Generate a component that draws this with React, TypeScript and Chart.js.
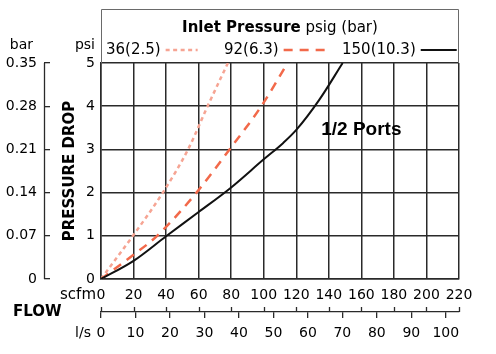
import React, { useEffect, useRef } from 'react';
import { Chart, registerables } from 'chart.js';

Chart.register(...registerables);

// ---------- data ----------
const seriesNames = ['36(2.5)', '92(6.3)', '150(10.3)'];
const flow36 = [0, 20, 38, 53.5, 65.5, 78];
const drop36 = [0, 1.02, 2, 3, 4, 5];
const flow92 = [0, 20, 34.5, 58.7, 79, 98.5, 114.7];
const drop92 = [0, 0.56, 1, 2, 3, 4, 5];
const flow150 = [0, 20, 40, 60, 80, 100, 112, 120, 134, 148.5];
const drop150 = [0, 0.42, 0.99, 1.55, 2.12, 2.77, 3.15, 3.45, 4.14, 5];

const scfmTicks = [0, 20, 40, 60, 80, 100, 120, 140, 160, 180, 200, 220];
const lpsTicks = [0, 10, 20, 30, 40, 50, 60, 70, 80, 90, 100];
const psiTicks = [0, 1, 2, 3, 4, 5];
const barTicks = [0, 0.07, 0.14, 0.21, 0.28, 0.35];
const SCFM_PER_LPS = 2.11888;

const legendTitleBold = 'Inlet Pressure';
const legendTitleRest = ' psig (bar)';
const portsLabel = '1/2 Ports';
const portsAt = { x: 160, y: 3.45 };

// ---------- style ----------
const FAMILY = '"DejaVu Sans", sans-serif';
const GRID = '#2a2a2a';
const colors = ['#f6a493', '#f2694a', '#111111'];
const widths = [2.5, 2.5, 2];
const dashes: number[][] = [[4, 3.5], [9, 7], []];
const sampleLen = [32, 42, 36];

const toPts = (xs: number[], ys: number[]) => xs.map((x, i) => ({ x, y: ys[i] }));

const decor = {
  id: 'decor',
  afterDraw(chart: any) {
    const { ctx, chartArea: ca, scales } = chart;
    const xs = scales.x, x2 = scales.x2, ys = scales.y, bs = scales.bar;
    ctx.save();
    ctx.fillStyle = '#000';
    ctx.textBaseline = 'middle';

    // legend box
    ctx.strokeStyle = '#6a6a6a';
    ctx.lineWidth = 1;
    const boxTop = ca.top - 54;
    ctx.beginPath();
    ctx.moveTo(ca.left + 0.5, ca.top);
    ctx.lineTo(ca.left + 0.5, boxTop + 0.5);
    ctx.lineTo(ca.right - 0.5, boxTop + 0.5);
    ctx.lineTo(ca.right - 0.5, ca.top);
    ctx.stroke();

    // legend title (mixed weight)
    const bFont = `bold 15px ${FAMILY}`;
    const rFont = `15px ${FAMILY}`;
    ctx.font = bFont;
    const wb = ctx.measureText(legendTitleBold).width;
    ctx.font = rFont;
    const wr = ctx.measureText(legendTitleRest).width;
    const tx = (ca.left + ca.right) / 2 - (wb + wr) / 2;
    const ty = boxTop + 19;
    ctx.textAlign = 'left';
    ctx.font = bFont;
    ctx.fillText(legendTitleBold, tx, ty);
    ctx.font = rFont;
    ctx.fillText(legendTitleRest, tx + wb, ty);

    // legend items
    const ly = ca.top - 13;
    chart.data.datasets.forEach((ds: any, i: number) => {
      const x0 = ca.left + 5 + i * 118;
      ctx.font = rFont;
      ctx.fillStyle = '#000';
      ctx.fillText(seriesNames[i], x0, ly);
      const w = ctx.measureText(seriesNames[i]).width;
      ctx.strokeStyle = ds.borderColor;
      ctx.lineWidth = ds.borderWidth;
      ctx.setLineDash(ds.borderDash || []);
      ctx.beginPath();
      ctx.moveTo(x0 + w + 5, ly);
      ctx.lineTo(x0 + w + 5 + sampleLen[i], ly);
      ctx.stroke();
      ctx.setLineDash([]);
    });

    // bar axis vertical line
    ctx.strokeStyle = GRID;
    ctx.lineWidth = 1.3;
    const bx = Math.round(bs.right - 6) + 0.5;
    ctx.beginPath();
    ctx.moveTo(bx, bs.getPixelForValue(barTicks[barTicks.length - 1]));
    ctx.lineTo(bx, bs.getPixelForValue(0));
    ctx.stroke();

    // upward ticks on the l/s line at scfm positions
    ctx.beginPath();
    scfmTicks.forEach((v) => {
      const px = Math.round(xs.getPixelForValue(v)) + 0.5;
      ctx.moveTo(px, x2.top - 5);
      ctx.lineTo(px, x2.top);
    });
    ctx.stroke();

    // unit labels
    const uFont = `14px ${FAMILY}`;
    ctx.fillStyle = '#000';
    ctx.font = uFont;
    ctx.textAlign = 'right';
    ctx.fillText('psi', ys.right - 6, ca.top - 18);
    ctx.fillText('bar', bs.right - 17, ca.top - 18);
    ctx.font = `15px ${FAMILY}`;
    ctx.fillText('scfm', ca.left - 5, xs.top + 16.4);
    ctx.font = uFont;
    ctx.fillText('l/s', ca.left - 10, x2.top + 21.4);
    ctx.textAlign = 'left';
    ctx.font = `bold 15px ${FAMILY}`;
    ctx.fillText('FLOW', 13, x2.top);

    // annotation
    ctx.textAlign = 'center';
    ctx.font = 'bold 19px "Liberation Sans", Arial, sans-serif';
    ctx.fillText(portsLabel, xs.getPixelForValue(portsAt.x), ys.getPixelForValue(portsAt.y));
    ctx.restore();
  },
};

export default function App() {
  const ref = useRef<HTMLCanvasElement>(null);
  useEffect(() => {
    const tickFont = { family: FAMILY, size: 14 };
    const chart = new Chart(ref.current as HTMLCanvasElement, {
      type: 'line',
      data: {
        datasets: [
          { label: seriesNames[0], data: toPts(flow36, drop36), borderColor: colors[0], borderWidth: widths[0], borderDash: dashes[0], order: 2 },
          { label: seriesNames[1], data: toPts(flow92, drop92), borderColor: colors[1], borderWidth: widths[1], borderDash: dashes[1], order: 1 },
          { label: seriesNames[2], data: toPts(flow150, drop150), borderColor: colors[2], borderWidth: widths[2], borderDash: dashes[2], order: 0 },
        ] as any,
      },
      options: {
        responsive: false,
        animation: false,
        elements: {
          point: { radius: 0 },
          line: { cubicInterpolationMode: 'monotone', fill: false, borderCapStyle: 'butt' },
        },
        layout: { padding: { top: 63, right: 37, left: 0, bottom: 0 } },
        plugins: { legend: { display: false }, tooltip: { enabled: false }, title: { display: false } },
        scales: {
          x: {
            type: 'linear', position: 'bottom', min: 0, max: 220, weight: 0,
            afterBuildTicks: (s: any) => { s.ticks = scfmTicks.map((v) => ({ value: v })); },
            afterFit: (s: any) => { s.height = 33; },
            ticks: { font: tickFont, color: '#000', padding: 8, autoSkip: false, maxRotation: 0 },
            grid: { color: GRID, lineWidth: 1.5, drawTicks: false },
            border: { color: GRID, width: 1.5 },
          },
          x2: {
            type: 'linear', position: 'bottom', min: 0, max: 220 / SCFM_PER_LPS, weight: 1,
            afterBuildTicks: (s: any) => { s.ticks = lpsTicks.map((v) => ({ value: v })); },
            afterFit: (s: any) => { s.height = 42; },
            ticks: { font: tickFont, color: '#000', padding: 7, autoSkip: false, maxRotation: 0 },
            grid: { drawOnChartArea: false, drawTicks: true, tickLength: 6, color: GRID, lineWidth: 1.3 },
            border: { display: true, color: GRID, width: 1.3 },
          },
          y: {
            type: 'linear', position: 'left', min: 0, max: 5, weight: 0,
            afterBuildTicks: (s: any) => { s.ticks = psiTicks.map((v) => ({ value: v })); },
            afterFit: (s: any) => { s.width = 51; },
            ticks: { font: tickFont, color: '#000', padding: 6 },
            grid: { color: GRID, lineWidth: 1.5, drawTicks: false },
            border: { color: GRID, width: 1.5 },
            title: {
              display: true, text: 'PRESSURE DROP', color: '#000',
              font: { family: FAMILY, size: 15, weight: 'bold' },
              padding: { top: 11.5, bottom: 0 },
            },
          },
          bar: {
            type: 'linear', position: 'left', min: 0, max: 0.35, weight: 1,
            afterBuildTicks: (s: any) => { s.ticks = barTicks.map((v) => ({ value: v })); },
            afterFit: (s: any) => { s.width = 50; },
            ticks: {
              font: tickFont, color: '#000', padding: 7,
              callback: (v: any) => (Number(v) === 0 ? '0' : Number(v).toFixed(2)),
            },
            grid: { drawOnChartArea: false, drawTicks: true, tickLength: 6, color: GRID, lineWidth: 1.3 },
            border: { display: false },
          },
        },
      } as any,
      plugins: [decor],
    });
    return () => chart.destroy();
  }, []);
  return (
    <div style={{ position: 'fixed', left: 0, top: 0, width: 496, height: 354, background: '#fff' }}>
      <canvas ref={ref} width={496} height={354} style={{ display: 'block', width: 496, height: 354 }} />
    </div>
  );
}
